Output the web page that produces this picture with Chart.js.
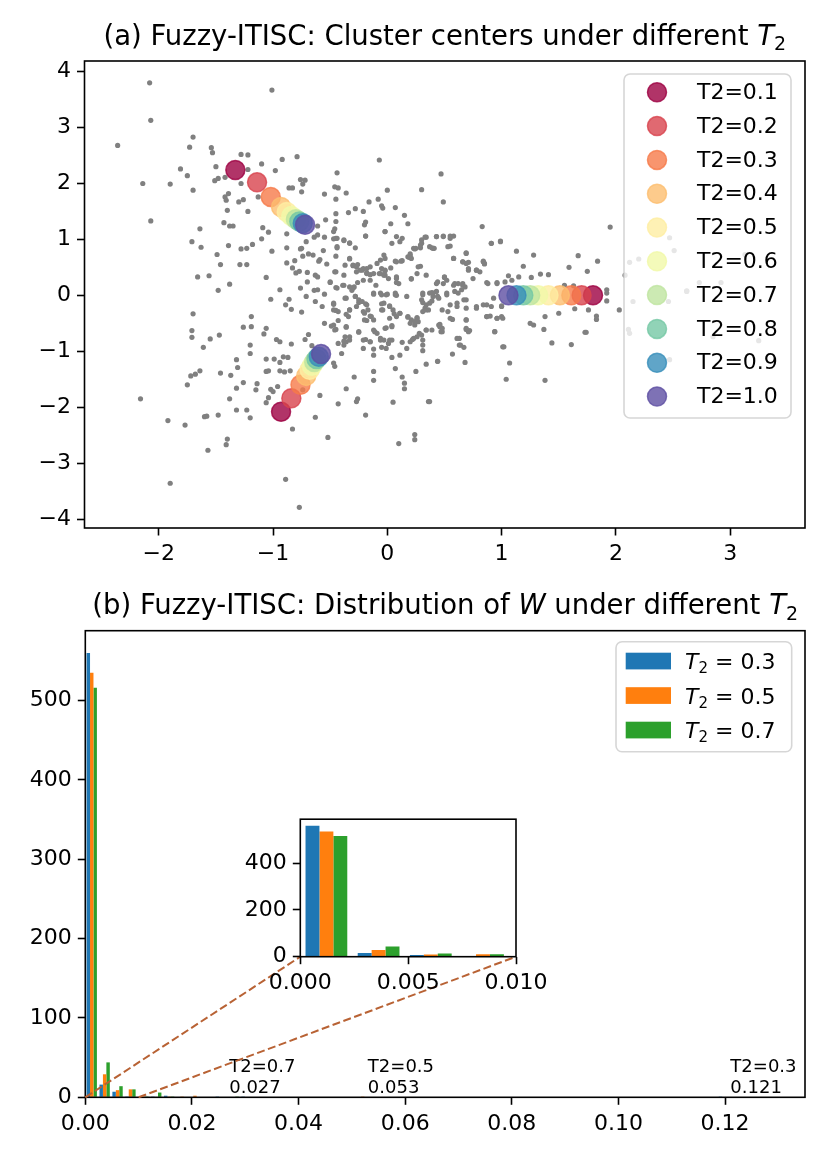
<!DOCTYPE html>
<html>
<head>
<meta charset="utf-8">
<script src="https://cdn.jsdelivr.net/npm/chart.js@4.4.1/dist/chart.umd.min.js"></script>
<style>
  body { margin: 0; background: #fff; }
  #page { position: relative; width: 830px; height: 1162px; overflow: hidden; }
  canvas { position: absolute; }
</style>
</head>
<body>
<div id="page">
  <canvas id="topChart" width="830" height="575" style="left:0;top:0"></canvas>
  <canvas id="histChart" width="830" height="587" style="left:0;top:575px"></canvas>
  <canvas id="insetChart" width="340" height="200" style="left:220px;top:800px"></canvas>
</div>
<script>
// ---------- (a) cluster centres ----------
const t2Values = [0.1, 0.2, 0.3, 0.4, 0.5, 0.6, 0.7, 0.8, 0.9, 1.0];
const centerColors = [
  'rgba(158,1,66,0.8)', 'rgba(216,67,78,0.8)', 'rgba(246,123,74,0.8)', 'rgba(253,190,111,0.8)',
  'rgba(254,238,162,0.8)', 'rgba(241,249,169,0.8)', 'rgba(191,229,160,0.8)', 'rgba(117,200,165,0.8)',
  'rgba(56,142,186,0.8)', 'rgba(94,79,162,0.8)'
];
// one centre per cluster for every T2
const upperX = [-1.33, -1.14, -1.02, -0.93, -0.88, -0.84, -0.80, -0.77, -0.74, -0.72];
const upperY = [2.24, 2.02, 1.76, 1.58, 1.49, 1.42, 1.36, 1.32, 1.29, 1.26];
const lowerX = [-0.93, -0.84, -0.76, -0.71, -0.68, -0.66, -0.64, -0.62, -0.60, -0.58];
const lowerY = [-2.08, -1.84, -1.60, -1.44, -1.33, -1.26, -1.19, -1.14, -1.10, -1.05];
const rightX = [1.80, 1.70, 1.61, 1.51, 1.41, 1.32, 1.25, 1.19, 1.13, 1.06];
const rightY = [0.0, 0.0, 0.0, 0.0, 0.0, 0.0, 0.0, 0.0, 0.0, 0.0];

// data samples (grey dots)
const samples = [
  [-2.08,3.80],[-1.01,3.67],[-2.07,3.13],[-2.36,2.68],[-1.70,2.83],[-1.73,2.65],[-1.54,2.64],[-1.53,2.55],
  [-1.28,2.52],[-1.22,2.51],[-1.10,2.35],[-0.92,2.43],[-0.79,2.48],[-1.81,2.26],[-1.75,2.14],[-1.50,2.30],
  [-1.22,2.25],[-0.98,2.23],[-2.14,2.00],[-1.90,1.99],[-1.70,1.88],[-1.51,2.05],[-1.48,2.09],[-1.42,2.11],
  [-1.28,2.00],[-0.76,2.07],[-0.72,2.06],[-0.74,1.99],[-0.86,1.92],[-0.83,1.92],[-0.75,1.85],[-0.44,2.19],
  [-0.46,1.94],[-0.43,1.92],[-0.36,1.83],[-0.55,1.81],[-0.07,2.42],[0.30,1.89],[0.00,1.88],[-1.39,1.82],
  [-1.42,1.76],[-1.41,1.70],[-1.30,1.67],[-1.26,1.71],[-1.13,1.76],[-1.40,1.52],[-1.22,1.50],[-2.07,1.33],
  [-1.43,1.30],[-1.38,1.24],[-1.35,1.24],[-1.09,1.21],[-1.04,1.13],[-1.10,1.01],[-0.88,1.10],[-0.61,1.24],
  [-0.45,1.72],[-0.54,1.35],[-0.45,1.46],[-0.34,1.48],[-0.28,1.55],[-0.21,1.50],[-0.16,1.67],[-0.08,1.72],
  [-0.05,1.60],[-0.04,1.56],[0.07,1.57],[0.15,1.43],[0.18,1.28],[0.03,1.28],[-0.02,1.14],[-0.19,1.31],
  [-0.20,1.26],[-0.19,1.06],[-0.45,1.32],[-0.46,1.19],[-0.47,1.14],[-0.45,1.02],[-1.71,0.96],[-1.63,0.86],
  [-1.64,1.19],[-1.39,0.89],[-1.28,0.83],[-1.23,0.84],[-1.18,0.91],[-1.01,0.79],[-0.88,0.85],[-1.49,0.73],
  [-1.46,0.55],[-1.29,0.55],[-1.23,0.55],[-1.66,0.33],[-1.56,0.35],[-1.38,0.20],[-1.48,0.09],[-1.06,0.32],
  [-0.94,0.10],[-0.88,0.58],[-0.83,0.49],[-0.81,0.62],[-0.76,0.83],[-0.71,0.96],[-0.64,1.04],[-0.61,1.08],
  [-0.55,1.04],[-0.47,1.01],[-0.38,0.98],[-0.33,0.94],[-0.28,0.85],[-0.75,0.84],[-0.69,0.74],[-0.74,0.70],
  [-0.65,0.72],[-0.56,0.80],[-0.44,0.85],[-0.45,0.70],[-0.59,0.64],[-0.60,0.61],[-0.53,0.56],[-0.33,0.65],
  [-0.30,0.53],[-0.26,0.55],[-0.80,0.40],[-0.77,0.43],[-0.70,0.41],[-0.63,0.36],[-0.61,0.33],[-0.45,0.42],
  [-0.22,0.45],[-0.18,0.48],[-0.18,0.40],[-0.15,0.37],[-0.07,0.39],[-0.05,0.48],[-0.02,0.44],[0.03,0.49],
  [0.07,0.61],[0.12,0.61],[0.19,0.68],[0.20,0.71],[0.24,0.83],[0.29,0.85],[0.30,0.93],[0.34,1.04],
  [0.39,0.85],[0.25,0.84],[0.27,0.51],[0.21,0.29],[0.08,0.30],[0.08,0.23],[-0.02,0.36],[-0.10,0.18],
  [-0.21,0.27],[-0.29,0.15],[-0.26,0.23],[-0.31,0.09],[-0.39,0.18],[-0.45,0.14],[-0.50,0.23],[-0.61,0.10],
  [-0.70,0.24],[-0.76,0.13],[-0.64,0.09],[-0.12,0.02],[-0.05,0.01],[0.00,0.02],[0.07,0.01],[0.31,0.04],
  [0.39,0.05],[0.47,2.17],
  [-1.02,-0.07],[-0.86,-0.07],[-0.89,-0.17],[-0.84,-0.25],[-0.75,-0.30],[-0.71,-0.02],[-0.63,-0.11],[-0.57,-0.20],
  [-0.55,0.02],[-0.47,-0.16],[-0.45,-0.27],[-0.36,-0.34],[-0.33,-0.26],[-0.36,-0.05],[-0.28,-0.02],[-0.25,-0.13],
  [-0.19,-0.15],[-0.20,-0.32],[-0.18,-0.45],[-0.15,-0.37],[-0.05,-0.15],[-0.04,-0.26],[0.02,-0.19],[0.08,0.00],
  [0.06,-0.33],[0.11,-0.32],[0.18,-0.38],[0.24,-0.47],[0.26,-0.40],[0.31,-0.13],[0.34,-0.26],[0.39,-0.10],
  [0.45,-0.53],[-1.70,-0.33],[-1.71,-0.63],[-1.71,-0.75],[-1.55,-0.78],[-1.47,-0.71],[-1.61,-0.93],[-1.26,-0.57],
  [-1.19,-0.38],[-1.19,-0.56],[-1.08,-0.69],[-1.06,-0.59],[-1.20,-0.89],[-1.20,-1.04],[-0.97,-0.79],[-0.94,-0.83],
  [-0.84,-0.87],[-0.69,-0.70],[-0.72,-0.79],[-0.66,-0.90],[-0.55,-0.50],[-0.49,-0.55],[-0.45,-0.61],[-0.43,-0.45],
  [-0.36,-0.57],[-0.43,-0.86],[-0.38,-0.82],[-0.33,-0.80],[-0.40,-1.04],[-0.25,-0.66],[-0.19,-0.79],[-0.11,-0.65],
  [-0.15,-0.83],[-0.12,-0.96],[-0.12,-1.07],[-0.06,-0.80],[-0.05,-0.93],[-0.01,-0.58],[0.04,-0.54],[0.02,-0.80],
  [0.04,-1.11],[0.11,-1.07],[0.07,-1.31],[0.13,-0.84],[0.17,-0.95],[0.22,-0.79],[0.28,-0.68],[0.31,-0.80],
  [0.34,-0.62],[0.39,-0.62],[0.31,-0.99],[0.34,-1.23],[0.25,-1.36],[0.13,-1.46],[0.15,-1.57],[0.15,-1.67],
  [0.36,-1.90],[0.05,-1.91],[-0.12,-1.36],[-0.12,-1.52],[-0.19,-2.14],[-0.29,-1.46],[-0.26,-1.85],[-0.27,-1.90],
  [-0.43,-1.94],[-0.36,-1.67],[-0.52,-2.54],[-0.59,-1.79],[-0.63,-2.18],[-0.83,-2.39],[-0.89,-3.29],[-0.77,-3.79],
  [-1.32,-1.15],[-1.31,-1.29],[-1.32,-1.66],[-1.26,-1.56],[-1.38,-1.85],[-1.32,-2.05],[-1.23,-2.05],[-1.20,-2.19],
  [-1.14,-1.58],[-1.15,-1.69],[-1.06,-1.14],[-1.06,-1.36],[-1.04,-1.35],[-0.99,-1.14],[-0.94,-1.20],[-0.94,-1.35],
  [-0.91,-1.10],[-0.87,-1.11],[-0.90,-1.37],[-0.85,-1.35],[-0.96,-1.63],[-1.02,-1.68],[-1.00,-1.72],[-1.04,-1.83],
  [-1.06,-1.92],[-0.74,-1.69],[-0.46,-1.27],[-0.47,-1.21],[-2.16,-1.85],[-1.92,-2.24],[-1.77,-2.32],[-1.60,-2.17],
  [-1.58,-2.16],[-1.48,-2.14],[-1.57,-2.77],[-1.41,-2.67],[-1.40,-2.57],[-1.75,-1.60],[-1.72,-1.44],[-1.68,-1.41],
  [-1.64,-1.35],[-1.46,-1.39],[-1.37,-1.43],[-1.90,-3.36],[0.10,-2.65],[0.24,-2.49],[0.24,-2.58],[0.44,-1.18],
  [0.46,-0.52],
  [0.49,1.67],[0.83,1.23],[1.95,1.22],[0.91,0.93],[0.99,0.97],[0.41,0.84],[0.43,1.05],[0.49,1.06],
  [0.55,1.06],[0.55,0.88],[1.13,0.79],[1.28,0.72],[0.69,0.76],[0.58,0.66],[0.66,0.60],[0.71,0.59],
  [0.84,0.61],[0.85,0.56],[0.78,0.45],[0.71,0.48],[1.19,0.52],[1.59,0.50],[1.67,0.71],[1.75,0.43],
  [1.84,0.61],[2.12,0.59],[2.20,0.65],[2.47,1.03],[2.51,0.80],[3.13,0.73],[1.06,0.35],[1.09,0.27],
  [1.15,0.33],[1.26,0.32],[1.34,0.38],[1.41,0.37],[0.96,0.23],[0.87,0.23],[0.75,0.30],[0.50,0.32],
  [0.44,0.24],[0.59,0.21],[0.66,0.18],[1.55,0.18],[1.63,0.17],[1.92,0.10],[2.08,0.36],[2.73,0.23],
  [2.92,0.23],[2.62,0.08],[0.40,0.04],
  [0.37,-0.14],[0.44,-0.02],[0.52,0.01],[0.61,-0.14],[0.55,-0.17],[0.67,-0.08],[0.69,-0.23],[0.78,-0.20],
  [0.84,-0.17],[0.91,-0.20],[1.00,-0.19],[0.46,-0.56],[0.47,-0.65],[0.57,-0.43],[0.69,-0.44],[0.69,-0.61],
  [0.72,-0.63],[0.87,-0.38],[0.90,-0.37],[0.96,-0.41],[1.00,-0.38],[0.94,-0.65],[0.63,-0.77],[0.63,-0.89],
  [0.67,-0.93],[0.57,-1.05],[0.44,-1.18],[0.68,-1.20],[1.02,-0.92],[1.07,-1.21],[1.04,-1.50],[1.38,-1.52],
  [1.25,-0.50],[1.28,-0.53],[1.38,-0.38],[1.37,-0.61],[1.50,-0.32],[1.44,-0.85],[1.61,-0.88],[1.64,-0.24],
  [1.73,-0.66],[1.74,-0.66],[1.83,-0.37],[1.83,-0.43],[1.76,-0.26],[1.92,0.04],[1.92,-0.10],[2.03,-0.26],
  [2.11,-0.61],[2.12,-0.68],[2.15,-0.11],[2.46,-0.11],[2.47,-1.15],[2.62,0.07],[2.85,-0.74],[3.25,-0.81],
  [0.37,-1.90],
  // dense core
  [-0.44,1.02],[-0.38,0.99],[-0.33,0.93],[-0.44,0.87],[-0.19,1.06],[-0.02,1.14],[0.04,0.93],[0.08,1.05],
  [0.13,1.02],[0.11,0.96],[0.23,0.84],[0.29,0.90],[0.30,0.99],[0.33,1.04],[0.40,0.84],[0.43,1.05],
  [0.49,1.05],[0.55,1.02],[0.58,1.06],[0.53,0.87],[0.69,0.75],[0.91,0.93],[0.99,0.96],[0.37,0.87],
  [-0.33,0.66],[-0.37,0.54],[-0.30,0.54],[-0.27,0.51],[-0.21,0.48],[-0.15,0.51],[-0.09,0.57],[-0.06,0.63],
  [-0.03,0.72],[-0.02,0.66],[0.08,0.60],[0.13,0.62],[0.18,0.69],[0.20,0.74],[0.21,0.66],[0.29,0.52],
  [0.58,0.66],[0.66,0.60],[0.69,0.57],[0.84,0.60],[0.85,0.57],
  [-0.46,0.42],[-0.38,0.36],[-0.27,0.42],[-0.24,0.45],[-0.18,0.39],[-0.15,0.27],[-0.12,0.39],[-0.06,0.39],
  [-0.03,0.36],[-0.02,0.45],[0.01,0.30],[0.08,0.33],[0.10,0.21],[0.21,0.30],[0.26,0.39],[0.34,0.36],
  [0.43,0.21],[0.49,0.21],[0.50,0.33],[0.52,0.27],[0.58,0.18],[0.62,0.21],[0.66,0.21],[0.68,0.15],
  [0.71,0.45],[0.78,0.45],[0.81,0.42],[0.88,0.21],[0.96,0.21],[1.03,0.24],
  [-0.50,0.24],[-0.44,0.13],[-0.38,0.18],[-0.33,0.15],[-0.30,0.13],[-0.12,0.04],[-0.06,0.04],[-0.01,0.01],
  [0.07,0.04],[0.17,-0.02],[0.31,0.01],[0.37,0.04],[0.40,-0.02],[0.45,-0.05],[0.52,0.04],[0.59,0.07],
  [0.62,0.04],[0.65,0.10],[0.69,-0.08],[0.78,-0.23],[0.87,-0.17],[0.93,-0.05],[1.00,-0.20],[-0.28,-0.02],
  [-0.25,-0.08],[-0.22,-0.11],[-0.18,-0.17],[-0.47,-0.14],[-0.37,-0.05],[0.30,-0.08],[0.43,0.07],
  [-0.47,-0.26],[-0.43,-0.29],[-0.33,-0.26],[-0.34,-0.38],[-0.27,-0.20],[-0.21,-0.29],[-0.17,-0.26],[-0.14,-0.38],
  [-0.20,-0.44],[-0.12,-0.44],[-0.03,-0.14],[-0.05,-0.26],[0.02,-0.20],[0.05,-0.26],[0.11,-0.32],[0.08,-0.38],
  [0.02,-0.41],[0.18,-0.39],[0.26,-0.41],[0.21,-0.44],[0.33,-0.23],[0.36,-0.26],[0.34,-0.17],[0.31,-0.29],
  [0.48,-0.26],[0.53,-0.29],[0.61,-0.20],[0.55,-0.41],[0.69,-0.44],[0.87,-0.38],[0.96,-0.41],[1.01,-0.41],
  [-0.47,-0.53],[-0.46,-0.62],[-0.36,-0.56],[-0.37,-0.74],[-0.25,-0.65],[-0.12,-0.62],[-0.09,-0.68],[-0.02,-0.59],
  [0.04,-0.56],[0.20,-0.50],[0.24,-0.53],[0.27,-0.47],[0.34,-0.62],[0.30,-0.71],[0.26,-0.74],[0.23,-0.77],
  [0.20,-0.83],[0.04,-0.80],[0.01,-0.86],[-0.03,-0.80],[-0.06,-0.77],[-0.15,-0.83],[-0.21,-0.80],[-0.33,-0.74],
  [-0.36,-0.83],[-0.38,-0.89],[0.48,-0.59],[0.48,-0.65],[0.61,-0.77],[0.64,-0.89],[0.69,-0.59],[0.71,-0.65],
  [0.94,-0.65],[1.01,-0.92],[-0.01,-0.95],[-0.21,-0.95],[0.31,-0.89]
];
const topXTicks = [-2, -1, 0, 1, 2, 3];
const topYTicks = [-4, -3, -2, -1, 0, 1, 2, 3, 4];

// ---------- (b) histogram of W ----------
const histT2 = [0.3, 0.5, 0.7];
const histColors = ['#1f77b4', '#ff7f0e', '#2ca02c'];
const binStart = 0, binWidth = 0.00242;   // 50 bins over 0 .. 0.121
const countsT03 = [560,16,7,1,0,1,2,0,0,0, 1,0,1,0,0,0,0,0,0,0, 0,0,0,0,0,0,0,0,0,0,
                   0,0,0,0,0,0,0,0,0,0, 0,0,0,0,0,0,0,0,0,1];
const countsT05 = [535,29,9,10,1,0,1,1,2,0, 0,0,0,0,0,0,0,0,0,0, 0,1,0,0,0,0,0,0,0,0,
                   0,0,0,0,0,0,0,0,0,0, 0,0,0,0,0,0,0,0,0,0];
const countsT07 = [516,44,14,10,1,6,1,0,0,0, 0,1,0,0,0,0,0,0,0,0, 0,0,0,0,0,0,0,0,0,0,
                   0,0,0,0,0,0,0,0,0,0, 0,0,0,0,0,0,0,0,0,0];
const maxW = [0.121, 0.053, 0.027];
const histXTicks = [0, 0.02, 0.04, 0.06, 0.08, 0.10, 0.12];
const histYTicks = [0, 100, 200, 300, 400, 500];
const insetXTicks = [0, 0.005, 0.010];
const insetYTicks = [0, 200, 400];

// ---------- helpers ----------
const FAMILY = '"DejaVu Sans"';
Chart.defaults.font.family = 'DejaVu Sans';
Chart.defaults.color = '#000';
const fmtMinus = v => String(v).replace('-', '\u2212');

function axis(pos, min, max, ticks, fmt, size) {
  return {
    type: 'linear', position: pos, min: min, max: max, offset: false,
    afterBuildTicks: s => { s.ticks = ticks.map(v => ({ value: v })); },
    afterFit: s => { if (pos === 'left') s.width = size; else s.height = size; },
    grid: { display: true, drawOnChartArea: false, drawTicks: true, tickLength: 7.5,
            tickWidth: 1.6, tickColor: '#000', offset: false },
    border: { display: false },
    ticks: { color: '#000', font: { size: 22 }, padding: 6, maxRotation: 0, autoSkip: false,
             callback: fmt }
  };
}
function pad(W, H, a, yW, xH) {
  return { padding: { left: a.l - yW, top: a.t, right: W - a.r, bottom: H - a.b - xH } };
}
function drawFrame(chart) {
  const { ctx, chartArea: a } = chart;
  ctx.save();
  ctx.strokeStyle = '#000';
  ctx.lineWidth = 1.6;
  ctx.strokeRect(a.left, a.top, a.right - a.left, a.bottom - a.top);
  ctx.restore();
}
// draw text made of parts (normal / italic / subscript)
function richText(ctx, parts, x, y, align) {
  let w = 0;
  parts.forEach(p => { ctx.font = p.font; p.w = ctx.measureText(p.text).width; w += p.w; });
  let cx = align === 'center' ? x - w / 2 : x;
  ctx.textAlign = 'left';
  ctx.textBaseline = 'alphabetic';
  parts.forEach(p => { ctx.font = p.font; ctx.fillText(p.text, cx, y + (p.dy || 0)); cx += p.w; });
}
function t2Parts(size, rest) {
  return [
    { text: 'T', font: 'italic ' + size + 'px ' + FAMILY },
    { text: '2', font: Math.round(size * 0.7) + 'px ' + FAMILY, dy: size * 0.2 },
    { text: rest, font: size + 'px ' + FAMILY }
  ];
}

// ---------- chart (a) ----------
const centerSets = t2Values.map((t, i) => ({
  label: 'T2=' + t.toFixed(1),
  data: [{ x: upperX[i], y: upperY[i] }, { x: lowerX[i], y: lowerY[i] }, { x: rightX[i], y: rightY[i] }],
  backgroundColor: centerColors[i],
  borderColor: centerColors[i],
  borderWidth: 1.5,
  pointRadius: 9.5,
  order: 10 - i
}));

const topPlugin = {
  id: 'topDecor',
  afterDraw(chart) {
    const ctx = chart.ctx, a = chart.chartArea;
    drawFrame(chart);
    // legend
    ctx.save();
    ctx.beginPath();
    ctx.roundRect(624, 74, 167, 344, 6);
    ctx.fillStyle = 'rgba(255,255,255,0.8)';
    ctx.fill();
    ctx.strokeStyle = 'rgba(204,204,204,0.8)';
    ctx.lineWidth = 1.6;
    ctx.stroke();
    t2Values.forEach((t, i) => {
      const y = 92.3 + i * 33.8;
      ctx.beginPath();
      ctx.arc(657, y, 9.5, 0, Math.PI * 2);
      ctx.fillStyle = centerColors[i];
      ctx.fill();
      ctx.strokeStyle = centerColors[i];
      ctx.lineWidth = 1.5;
      ctx.stroke();
      ctx.fillStyle = '#000';
      ctx.font = '22px ' + FAMILY;
      ctx.textAlign = 'left';
      ctx.textBaseline = 'middle';
      ctx.fillText('T2=' + t.toFixed(1), 697, y + 1);
    });
    // title
    ctx.fillStyle = '#000';
    richText(ctx, [{ text: '(a) Fuzzy-ITISC: Cluster centers under different ', font: '27.5px ' + FAMILY }]
      .concat(t2Parts(27.5, '')), (a.left + a.right) / 2, 44.6, 'center');
    ctx.restore();
  }
};

new Chart(document.getElementById('topChart'), {
  type: 'scatter',
  data: {
    datasets: centerSets.concat([{
      label: 'samples',
      data: samples.map(p => ({ x: p[0], y: p[1] })),
      backgroundColor: '#808080',
      borderWidth: 0,
      pointRadius: 2.6,
      order: 20
    }])
  },
  options: {
    responsive: false, animation: false, events: [],
    layout: pad(830, 575, { l: 84.5, t: 61, r: 805, b: 528 }, 70, 45),
    plugins: { legend: { display: false }, tooltip: { enabled: false } },
    scales: {
      x: axis('bottom', -2.65, 3.655, topXTicks, v => fmtMinus(v), 45),
      y: axis('left', -4.16, 4.19, topYTicks, v => fmtMinus(v), 70)
    }
  },
  plugins: [topPlugin]
});

// ---------- chart (b) ----------
const binCenters = countsT03.map((_, i) => binStart + (i + 0.5) * binWidth);
function histSets(clip) {
  return [countsT03, countsT05, countsT07].map((c, k) => ({
    label: 'T2 = ' + histT2[k],
    data: c.map((v, i) => ({ x: binCenters[i], y: v })),
    backgroundColor: histColors[k],
    borderWidth: 0,
    categoryPercentage: 0.8,
    barPercentage: 1.0,
    clip: clip
  }));
}

// inset first, so the connectors can find it
const insetPlugin = {
  id: 'insetDecor',
  beforeDraw(chart) {
    const { ctx, chartArea: a } = chart;
    ctx.save();
    ctx.fillStyle = '#fff';
    ctx.fillRect(a.left, a.top, a.right - a.left, a.bottom - a.top);
    ctx.restore();
  },
  afterDraw(chart) { drawFrame(chart); }
};
const inset = new Chart(document.getElementById('insetChart'), {
  type: 'bar',
  data: { datasets: histSets(0) },
  options: {
    responsive: false, animation: false, events: [],
    layout: pad(340, 200, { l: 80.3, t: 16, r: 296, b: 156.7 }, 70, 40),
    plugins: { legend: { display: false }, tooltip: { enabled: false } },
    scales: {
      x: axis('bottom', 0, 0.010, insetXTicks, v => v.toFixed(3), 40),
      y: axis('left', 0, 588, insetYTicks, v => String(v), 70)
    }
  },
  plugins: [insetPlugin]
});

const histPlugin = {
  id: 'histDecor',
  afterDraw(chart) {
    const ctx = chart.ctx, a = chart.chartArea, xs = chart.scales.x, ys = chart.scales.y;
    drawFrame(chart);
    ctx.save();
    // annotations for the largest W of each T2
    ctx.fillStyle = '#000';
    ctx.font = '18px ' + FAMILY;
    ctx.textAlign = 'left';
    ctx.textBaseline = 'alphabetic';
    maxW.forEach((m, k) => {
      const px = xs.getPixelForValue(m), py = ys.getPixelForValue(5);
      ctx.fillText('T2=' + histT2[k], px, py - 21.6);
      ctx.fillText(m.toFixed(3), px, py);
    });
    // connectors to the inset
    const ox = 220, oy = 800 - 575;
    const ix = inset.scales.x, iy = inset.scales.y;
    ctx.strokeStyle = 'rgb(184,98,52)';
    ctx.lineWidth = 2;
    ctx.setLineDash([8, 3.5]);
    [0, 0.010].forEach(v => {
      ctx.beginPath();
      ctx.moveTo(xs.getPixelForValue(v), ys.getPixelForValue(0));
      ctx.lineTo(ox + ix.getPixelForValue(v), oy + iy.getPixelForValue(0));
      ctx.stroke();
    });
    ctx.setLineDash([]);
    // legend
    ctx.beginPath();
    ctx.roundRect(616, 66.7, 175.7, 110, 6);
    ctx.fillStyle = 'rgba(255,255,255,0.8)';
    ctx.fill();
    ctx.strokeStyle = 'rgba(204,204,204,0.8)';
    ctx.lineWidth = 1.6;
    ctx.stroke();
    histT2.forEach((t, k) => {
      const y = 86 + k * 34.5;
      ctx.fillStyle = histColors[k];
      ctx.fillRect(625.7, y - 8.3, 45.3, 16.7);
      ctx.fillStyle = '#000';
      richText(ctx, t2Parts(22, ' = ' + t), 685, y + 8, 'left');
    });
    // title
    richText(ctx, [
      { text: '(b) Fuzzy-ITISC: Distribution of ', font: '27.5px ' + FAMILY },
      { text: 'W', font: 'italic 27.5px ' + FAMILY },
      { text: ' under different ', font: '27.5px ' + FAMILY }
    ].concat(t2Parts(27.5, '')), (a.left + a.right) / 2, 39.3, 'center');
    ctx.restore();
  }
};

new Chart(document.getElementById('histChart'), {
  type: 'bar',
  data: { datasets: histSets(false) },
  options: {
    responsive: false, animation: false, events: [],
    layout: pad(830, 587, { l: 85.3, t: 55.7, r: 805, b: 522.3 }, 70, 45),
    plugins: { legend: { display: false }, tooltip: { enabled: false } },
    scales: {
      x: axis('bottom', 0, 0.135, histXTicks, v => v.toFixed(2), 45),
      y: axis('left', 0, 588, histYTicks, v => String(v), 70)
    }
  },
  plugins: [histPlugin]
});
</script>
</body>
</html>
